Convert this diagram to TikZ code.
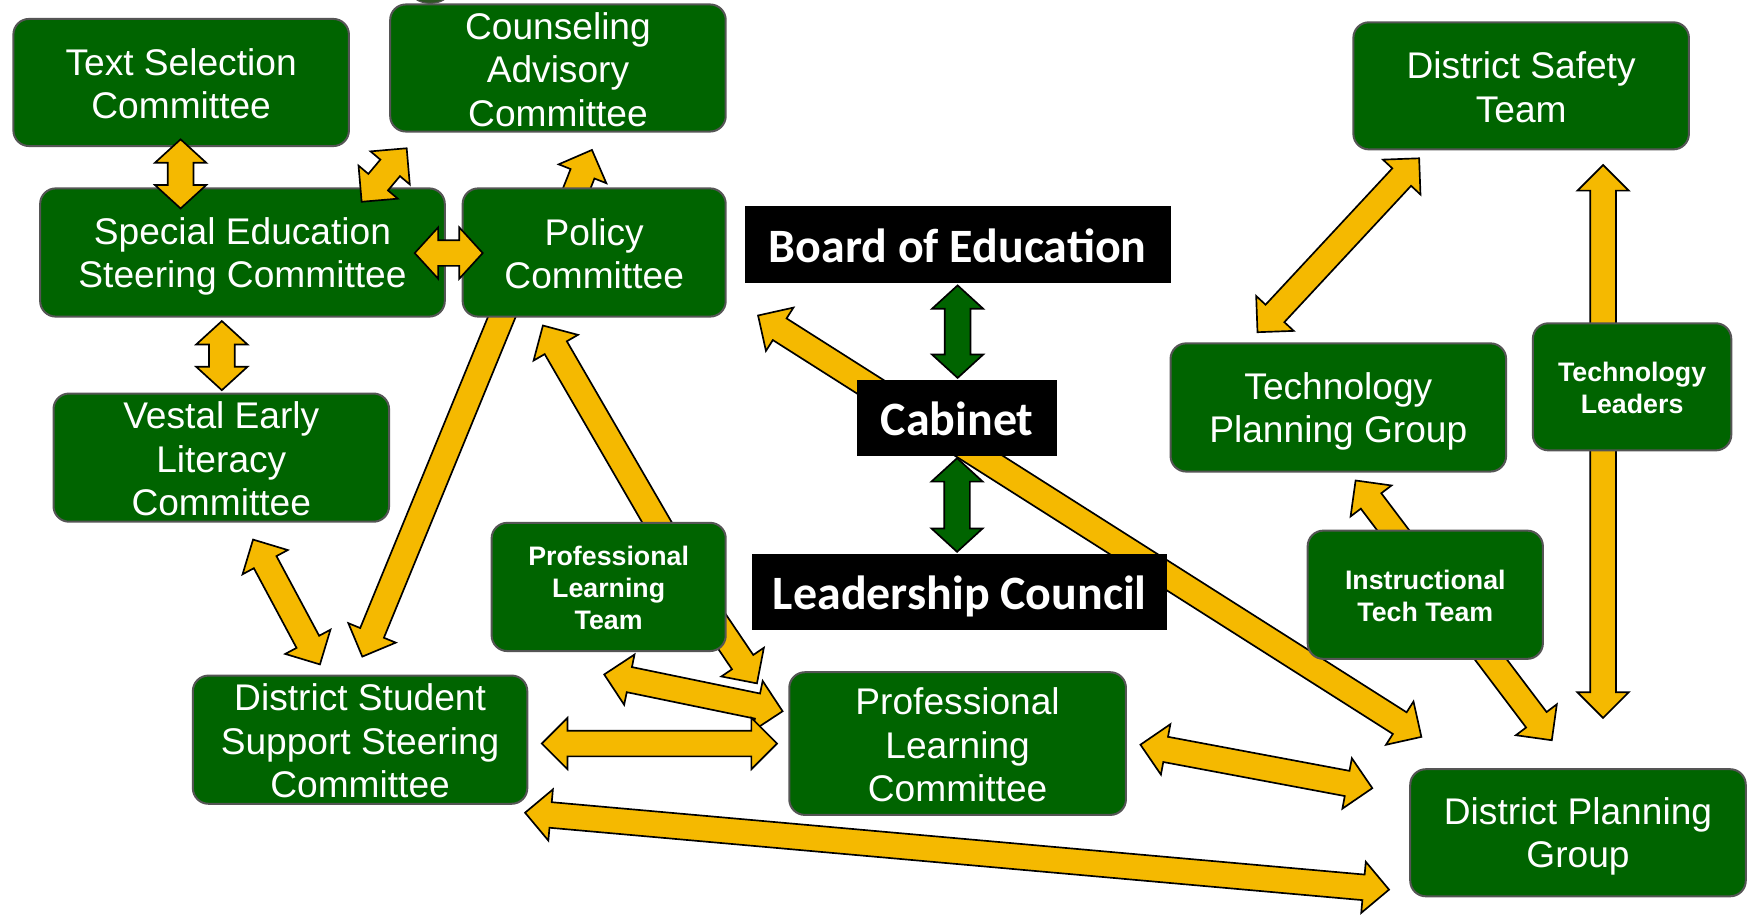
\documentclass[tikz,border=0pt]{standalone}
\usepackage{fontspec}
\setmainfont{Liberation Sans}
\newfontfamily\calib{Carlito}
\usetikzlibrary{calc}
\definecolor{boxgreen}{RGB}{0,100,0}
\definecolor{arrowyellow}{RGB}{245,185,0}
\definecolor{boxborder}{RGB}{85,85,85}
\definecolor{blobgreen}{RGB}{45,85,35}
\def\shafthw{11.5pt}
\def\headhw{23pt}
\def\headlen{23pt}
\newcommand\rs{\rule[-4.6pt]{0pt}{35.6pt}}
\newcommand\bs{\rule[-2pt]{0pt}{23pt}}
\newcommand\ks{\rule[-9pt]{0pt}{49.5pt}}
% double block arrow between two named points
\newcommand\dblarrow[3][yarr]{%
  \coordinate (pa) at ($(#2)!\headlen!(#3)$);
  \coordinate (pb) at ($(#3)!\headlen!(#2)$);
  \draw[#1] (#2) -- ($(pa)!\headhw!90:(#3)$) -- ($(pa)!\shafthw!90:(#3)$)
    -- ($(pb)!\shafthw!-90:(#2)$) -- ($(pb)!\headhw!-90:(#2)$) -- (#3)
    -- ($(pb)!\headhw!90:(#2)$) -- ($(pb)!\shafthw!90:(#2)$)
    -- ($(pa)!\shafthw!-90:(#3)$) -- ($(pa)!\headhw!-90:(#3)$) -- cycle;}
% single block arrow from tail to tip
\newcommand\onearrow[3][yarr]{%
  \coordinate (pb) at ($(#3)!\headlen!(#2)$);
  \draw[#1] ($(#2)!\shafthw!90:(#3)$) -- ($(pb)!\shafthw!-90:(#2)$)
    -- ($(pb)!\headhw!-90:(#2)$) -- (#3) -- ($(pb)!\headhw!90:(#2)$)
    -- ($(pb)!\shafthw!90:(#2)$) -- ($(#2)!\shafthw!-90:(#3)$) -- cycle;}
\tikzset{
  gbox/.style={rectangle, rounded corners=14pt, fill=boxgreen, draw=boxborder,
    line width=1.8pt, text=white, align=center, inner sep=0pt,
    font=\fontsize{33.3}{39}\selectfont},
  gboxb/.style={gbox, font=\bfseries\fontsize{24}{29}\selectfont},
  kbox/.style={rectangle, fill=black, text=white, inner sep=0pt,
    font=\calib\bfseries\fontsize{43}{50}\selectfont},
  yarr/.style={fill=arrowyellow, draw=black, line width=1.5pt, line join=miter},
  garr/.style={fill=boxgreen, draw=black, line width=1.5pt, line join=miter},
}
\begin{document}
\begin{tikzpicture}[x=1pt, y=-1pt]
\useasboundingbox (0,0) rectangle (1568,821);
\fill[white] (0,0) rectangle (1568,821);
\filldraw[fill=blobgreen, draw=boxborder, line width=1pt] (386,-6) ellipse (16 and 9);

% arrow end points
\coordinate (aA) at (162,125);   \coordinate (aB) at (162,187);
\coordinate (bA) at (324.4,181); \coordinate (bB) at (364.8,133);
\coordinate (cA) at (372,227);   \coordinate (cB) at (433,227);
\coordinate (dA) at (511,185);   \coordinate (dB) at (531,134.5);
\coordinate (eA) at (199,288);   \coordinate (eB) at (199,350);
\coordinate (fA) at (227,484);   \coordinate (fB) at (287,596);
\coordinate (gA) at (456,270);   \coordinate (gB) at (325,589);
\coordinate (hA) at (600,487);   \coordinate (hB) at (487,292);
\coordinate (iA) at (623,530);   \coordinate (iB) at (679,613);
\coordinate (jA) at (542,605);   \coordinate (jB) at (702,638);
\coordinate (kA) at (486,667);   \coordinate (kB) at (697,667);
\coordinate (lA) at (471,729);   \coordinate (lB) at (1246,798);
\coordinate (mA) at (1023,668);  \coordinate (mB) at (1231,707);
\coordinate (nA) at (680,283);   \coordinate (nB) at (1275,661);
\coordinate (oA) at (859,256);   \coordinate (oB) at (859,339);
\coordinate (pA) at (858.5,411); \coordinate (pB) at (858.5,495);
\coordinate (qA) at (1273,142);  \coordinate (qB) at (1128,298);
\coordinate (rA) at (1438,148);  \coordinate (rB) at (1438,644);
\coordinate (sA) at (1216,431);  \coordinate (sB) at (1392,664);

% arrows behind the boxes
\dblarrow{nA}{nB}
\onearrow{dA}{dB}
\onearrow{gA}{gB}
\onearrow{hA}{hB}
\onearrow{iA}{iB}
\dblarrow{fA}{fB}
\dblarrow{jA}{jB}
\dblarrow{kA}{kB}
\dblarrow{lA}{lB}
\dblarrow{mA}{mB}
\dblarrow{qA}{qB}
\dblarrow{rA}{rB}
\dblarrow{sA}{sB}

% boxes
\node[gbox, minimum width=301, minimum height=114] (ts) at (162.5,74) {\rs Text Selection\\Committee\rs};
\node[gbox, minimum width=301, minimum height=114] (ca) at (500.5,61) {\rs Counseling\\Advisory\\Committee\rs};
\node[gbox, minimum width=363, minimum height=115] (se) at (217.5,226.5) {\rs Special Education\\Steering Committee\rs};
\node[gbox, minimum width=236, minimum height=115] (pc) at (533,226.5) {\rs Policy\\Committee\rs};
\node[gbox, minimum width=301, minimum height=115] (vel) at (198.5,410.5) {\rs Vestal Early\\Literacy\\Committee\rs};
\node[gbox, minimum width=300, minimum height=115] (dss) at (323,663.5) {\rs District Student\\Support Steering\\Committee\rs};
\node[gboxb, minimum width=210, minimum height=115] (plt) at (546,526.5) {\bs Professional\\Learning\\Team\bs};
\node[gbox, minimum width=302, minimum height=128] (plc) at (859,667) {\rs Professional\\Learning\\Committee\rs};
\node[kbox, minimum width=382, minimum height=69] (boe) at (859,219.5) {\ks Board of Education};
\node[kbox, minimum width=179, minimum height=68] (cab) at (858.5,375) {\ks Cabinet};
\node[kbox, minimum width=372, minimum height=68] (lc) at (861,531) {\ks Leadership Council};
\node[gbox, minimum width=301, minimum height=114] (dst) at (1364.5,77) {\rs District Safety\\Team\rs};
\node[gbox, minimum width=301, minimum height=115] (tpg) at (1200.5,365.5) {\rs Technology\\Planning Group\rs};
\node[gboxb, minimum width=178, minimum height=114] (tl) at (1464,347) {\bs Technology\\Leaders\bs};
\node[gboxb, minimum width=211, minimum height=115] (itt) at (1278.5,533.5) {\bs Instructional\\Tech Team\bs};
\node[gbox, minimum width=301, minimum height=114] (dpg) at (1415.5,747) {\rs District Planning\\Group\rs};

% arrows on top of the boxes
\begingroup
\def\headlen{21pt}
\dblarrow{aA}{aB}
\dblarrow{cA}{cB}
\dblarrow{eA}{eB}
\endgroup
\dblarrow{bA}{bB}
\begingroup
\def\headlen{21pt}
\dblarrow[garr]{oA}{oB}
\dblarrow[garr]{pA}{pB}
\endgroup
\end{tikzpicture}
\end{document}
